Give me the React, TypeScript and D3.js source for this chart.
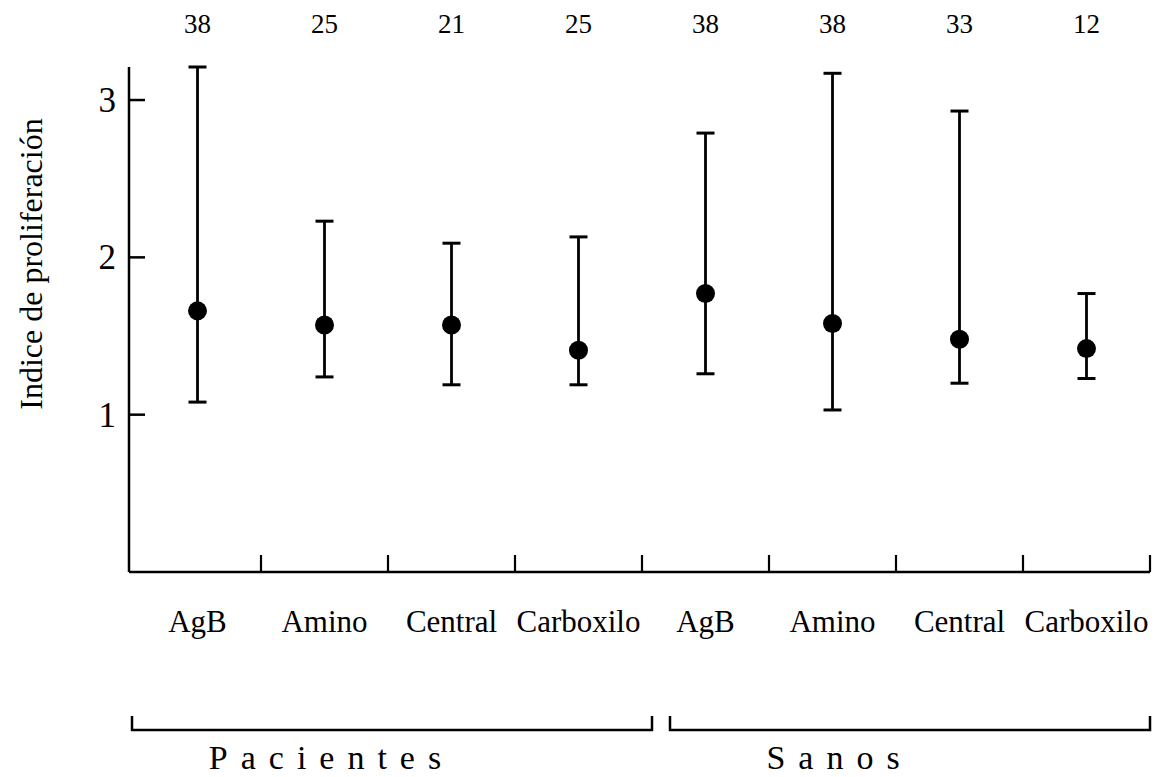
import React, { useEffect, useRef } from 'react';
import { select, scaleBand, scaleLinear } from 'd3';

const categories = ['AgB', 'Amino', 'Central', 'Carboxilo', 'AgB', 'Amino', 'Central', 'Carboxilo'];
const groups = ['Pacientes', 'Pacientes', 'Pacientes', 'Pacientes', 'Sanos', 'Sanos', 'Sanos', 'Sanos'];
const counts = [38, 25, 21, 25, 38, 38, 33, 12];
const means = [1.66, 1.57, 1.57, 1.41, 1.77, 1.58, 1.48, 1.42];
const lows = [1.08, 1.24, 1.19, 1.19, 1.26, 1.03, 1.2, 1.23];
const highs = [3.21, 2.23, 2.09, 2.13, 2.79, 3.17, 2.93, 1.77];
const yTicks = [1, 2, 3];
const groupNames = ['Pacientes', 'Sanos'];

const W = 1159;
const H = 777;
const FONT = '"Liberation Serif", "Times New Roman", serif';

const App = () => {
  const svgRef = useRef(null);

  useEffect(() => {
    const svg = select(svgRef.current);
    svg.selectAll('*').remove();

    const axisX = 129;
    const ids = categories.map((_, i) => i);

    const x = scaleBand().domain(ids).range([134, 1150]).padding(0);
    const y = scaleLinear().domain([0, 3.21]).range([572, 67]);
    const cx = (i) => x(i) + x.bandwidth() / 2;

    // axes
    svg.append('line')
      .attr('x1', axisX).attr('x2', axisX)
      .attr('y1', y(3.21)).attr('y2', y(0))
      .attr('stroke', '#000').attr('stroke-width', 2.5);
    svg.append('line')
      .attr('x1', axisX).attr('x2', x.range()[1])
      .attr('y1', y(0)).attr('y2', y(0))
      .attr('stroke', '#000').attr('stroke-width', 2.5);

    svg.selectAll('.ytick')
      .data(yTicks)
      .enter()
      .append('line')
      .attr('x1', axisX).attr('x2', axisX + 16)
      .attr('y1', (d) => y(d)).attr('y2', (d) => y(d))
      .attr('stroke', '#000').attr('stroke-width', 2.5);

    svg.selectAll('.ylabel')
      .data(yTicks)
      .enter()
      .append('text')
      .attr('x', axisX - 13)
      .attr('y', (d) => y(d) + 12)
      .attr('text-anchor', 'end')
      .attr('font-family', FONT)
      .attr('font-size', 35)
      .text((d) => d);

    // band boundary ticks
    svg.selectAll('.xtick')
      .data(ids.map((i) => x(i) + x.bandwidth()))
      .enter()
      .append('line')
      .attr('x1', (d) => d).attr('x2', (d) => d)
      .attr('y1', y(0)).attr('y2', y(0) - 17)
      .attr('stroke', '#000').attr('stroke-width', 2.2);

    svg.append('text')
      .attr('transform', `translate(42,264) rotate(-90)`)
      .attr('text-anchor', 'middle')
      .attr('font-family', FONT)
      .attr('font-size', 32)
      .text('Indice de proliferación');

    // counts
    svg.selectAll('.count')
      .data(counts)
      .enter()
      .append('text')
      .attr('x', (d, i) => cx(i))
      .attr('y', 33)
      .attr('text-anchor', 'middle')
      .attr('font-family', FONT)
      .attr('font-size', 27)
      .text((d) => d);

    // category labels
    svg.selectAll('.cat')
      .data(categories)
      .enter()
      .append('text')
      .attr('x', (d, i) => cx(i))
      .attr('y', 632)
      .attr('text-anchor', 'middle')
      .attr('font-family', FONT)
      .attr('font-size', 31)
      .text((d) => d);

    // error bars
    const bars = svg.append('g');
    ids.forEach((i) => {
      bars.append('line')
        .attr('x1', cx(i)).attr('x2', cx(i))
        .attr('y1', y(highs[i])).attr('y2', y(lows[i]))
        .attr('stroke', '#000').attr('stroke-width', 2.8);
      [highs[i], lows[i]].forEach((v) => {
        bars.append('line')
          .attr('x1', cx(i) - 9).attr('x2', cx(i) + 9)
          .attr('y1', y(v)).attr('y2', y(v))
          .attr('stroke', '#000').attr('stroke-width', 3);
      });
      bars.append('circle')
        .attr('cx', cx(i)).attr('cy', y(means[i]))
        .attr('r', 9.5)
        .attr('fill', '#000');
    });

    // group brackets
    groupNames.forEach((g, gi) => {
      const members = ids.filter((i) => groups[i] === g);
      const first = members[0];
      const last = members[members.length - 1];
      const x0 = gi === 0 ? x(first) - 2 : x(first) + 28;
      const x1 = gi === 0 ? x(last) + x.bandwidth() + 10 : x(last) + x.bandwidth();
      svg.append('path')
        .attr('d', `M${x0},716 V730 H${x1} V716`)
        .attr('fill', 'none')
        .attr('stroke', '#000')
        .attr('stroke-width', 2.5);
      const anchor = members.find((i) => categories[i] === 'Amino');
      svg.append('text')
        .attr('x', cx(anchor) + 7)
        .attr('y', 769)
        .attr('text-anchor', 'middle')
        .attr('font-family', FONT)
        .attr('font-size', 34)
        .attr('letter-spacing', 13)
        .text(g);
    });
  }, []);

  return (
    <div>
      <svg
        ref={svgRef}
        width={W}
        height={H}
        style={{ position: 'absolute', left: 0, top: 0, background: '#fff' }}
      ></svg>
    </div>
  );
};

export default App;
